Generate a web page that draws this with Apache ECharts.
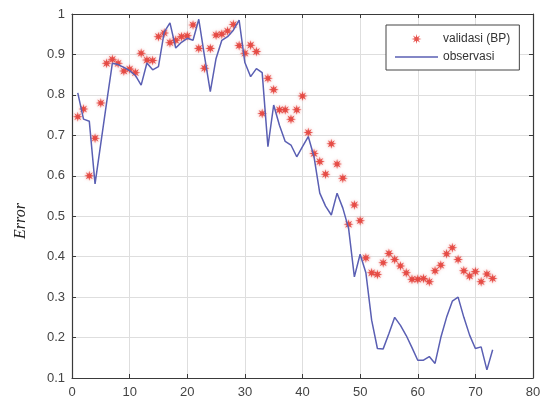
<!DOCTYPE html>
<html>
<head>
<meta charset="utf-8">
<script src="https://cdn.jsdelivr.net/npm/echarts@6/dist/echarts.min.js"></script>
<style>
html,body{margin:0;padding:0;background:#fff;}
#chart{width:544px;height:403px;}
</style>
</head>
<body>
<div id="chart"></div>
<script>
// ---- data ----
var xIndex = [1,2,3,4,5,6,7,8,9,10,11,12,13,14,15,16,17,18,19,20,
  21,22,23,24,25,26,27,28,29,30,31,32,33,34,35,36,37,38,39,40,
  41,42,43,44,45,46,47,48,49,50,51,52,53,54,55,56,57,58,59,60,
  61,62,63,64,65,66,67,68,69,70,71,72,73];

var validasiBP = [0.746,0.765,0.600,0.693,0.780,0.878,0.888,0.878,0.859,0.864,
  0.855,0.903,0.886,0.885,0.944,0.953,0.929,0.935,0.944,0.946,
  0.973,0.915,0.866,0.915,0.948,0.950,0.958,0.974,0.922,0.903,
  0.923,0.907,0.754,0.841,0.813,0.763,0.763,0.740,0.763,0.797,
  0.707,0.655,0.635,0.604,0.679,0.629,0.594,0.480,0.528,0.489,
  0.397,0.360,0.356,0.385,0.408,0.393,0.377,0.360,0.344,0.344,
  0.346,0.338,0.365,0.379,0.407,0.422,0.393,0.365,0.352,0.363,
  0.338,0.357,0.346];

var observasi = [0.805,0.740,0.735,0.580,0.680,0.780,0.878,0.875,0.868,0.860,
  0.848,0.824,0.879,0.862,0.870,0.955,0.978,0.916,0.930,0.940,
  0.935,0.987,0.895,0.808,0.890,0.935,0.944,0.960,0.985,0.880,
  0.845,0.865,0.855,0.672,0.775,0.725,0.685,0.676,0.647,0.672,
  0.697,0.647,0.557,0.525,0.503,0.557,0.520,0.470,0.350,0.406,
  0.360,0.243,0.173,0.172,0.210,0.250,0.230,0.205,0.175,0.144,
  0.144,0.153,0.136,0.200,0.250,0.290,0.300,0.250,0.206,0.173,
  0.177,0.120,0.170];

var xTicks = [0,10,20,30,40,50,60,70,80];
var yTicks = ['0.1','0.2','0.3','0.4','0.5','0.6','0.7','0.8','0.9','1'];
var seriesNames = ['validasi (BP)','observasi'];
var yLabel = 'Error';

// ---- build ----
var star = 'path://M0,-10 L1.53,-3.7 L7.07,-7.07 L3.7,-1.53 L10,0 L3.7,1.53 L7.07,7.07 L1.53,3.7 L0,10 L-1.53,3.7 L-7.07,7.07 L-3.7,1.53 L-10,0 L-3.7,-1.53 L-7.07,-7.07 L-1.53,-3.7 Z';
var lineIcon = 'path://M0,0 L43,0 L43,1.5 L0,1.5 Z';
var red = '#e4413b', blue = '#5a5fb3', axisCol = '#3a3a3a', gridCol = '#dedede';

function pairs(ys){ return xIndex.map(function(x,i){ return [x, ys[i]]; }); }

function yFmt(v){
  var r = Math.round(v*10)/10;
  var s = r === 1 ? '1' : r.toFixed(1);
  return yTicks.indexOf(s) >= 0 ? s : '';
}

var chart = echarts.init(document.getElementById('chart'), null, {renderer:'canvas'});
var axisCommon = {
  type:'value',
  axisLine:{show:true, onZero:false, lineStyle:{color:axisCol, width:1.2}},
  axisTick:{show:true, inside:true, length:4, lineStyle:{color:axisCol}},
  splitLine:{show:false}
};
chart.setOption({
  animation:false,
  backgroundColor:'#fff',
  grid:{left:72, right:11, top:14, bottom:25, containLabel:false},
  legend:{
    orient:'vertical', left:386, top:25,
    padding:[7,9,6,9], itemGap:4, itemWidth:43, itemHeight:10,
    symbolKeepAspect:true,
    backgroundColor:'#fff', borderColor:'#444', borderWidth:1,
    textStyle:{fontFamily:'Liberation Sans, Arial, sans-serif', fontSize:12, color:'#333', lineHeight:14},
    data:[{name:seriesNames[0], icon:star}, {name:seriesNames[1], icon:lineIcon}]
  },
  xAxis:[
    Object.assign({}, axisCommon, {
      position:'bottom', min:0, max:80, interval:10,
      axisLabel:{margin:8, color:'#444', fontSize:13, fontFamily:'Liberation Sans, Arial, sans-serif'},
      splitLine:{show:true, lineStyle:{color:gridCol, width:1}}
    }),
    Object.assign({}, axisCommon, {
      position:'top', min:0, max:80, interval:10, axisLabel:{show:false}
    })
  ],
  yAxis:[
    Object.assign({}, axisCommon, {
      position:'left', min:0.1, max:1, interval:0.1,
      axisLabel:{margin:7, color:'#444', fontSize:13, fontFamily:'Liberation Sans, Arial, sans-serif', formatter:yFmt},
      splitLine:{show:true, lineStyle:{color:gridCol, width:1}}
    }),
    Object.assign({}, axisCommon, {
      position:'right', min:0.1, max:1, interval:0.1, axisLabel:{show:false}
    })
  ],
  graphic:[{
    type:'text', rotation:Math.PI/2, position:[21,221],
    style:{text:yLabel, font:'italic 16px "Liberation Serif", "Times New Roman", serif', fill:'#222',
      textAlign:'center', textVerticalAlign:'middle'}
  }],
  series:[
    {
      name:seriesNames[0], type:'scatter', xAxisIndex:0, yAxisIndex:0,
      symbol:star, symbolSize:10,
      itemStyle:{color:red, opacity:0.9, shadowBlur:3, shadowColor:'rgba(228,65,59,0.6)'},
      data:pairs(validasiBP), z:2
    },
    {
      name:seriesNames[1], type:'line', xAxisIndex:0, yAxisIndex:0,
      symbol:'none', lineStyle:{color:blue, width:1.5}, itemStyle:{color:blue},
      data:pairs(observasi), z:3
    }
  ]
});
</script>
</body>
</html>
